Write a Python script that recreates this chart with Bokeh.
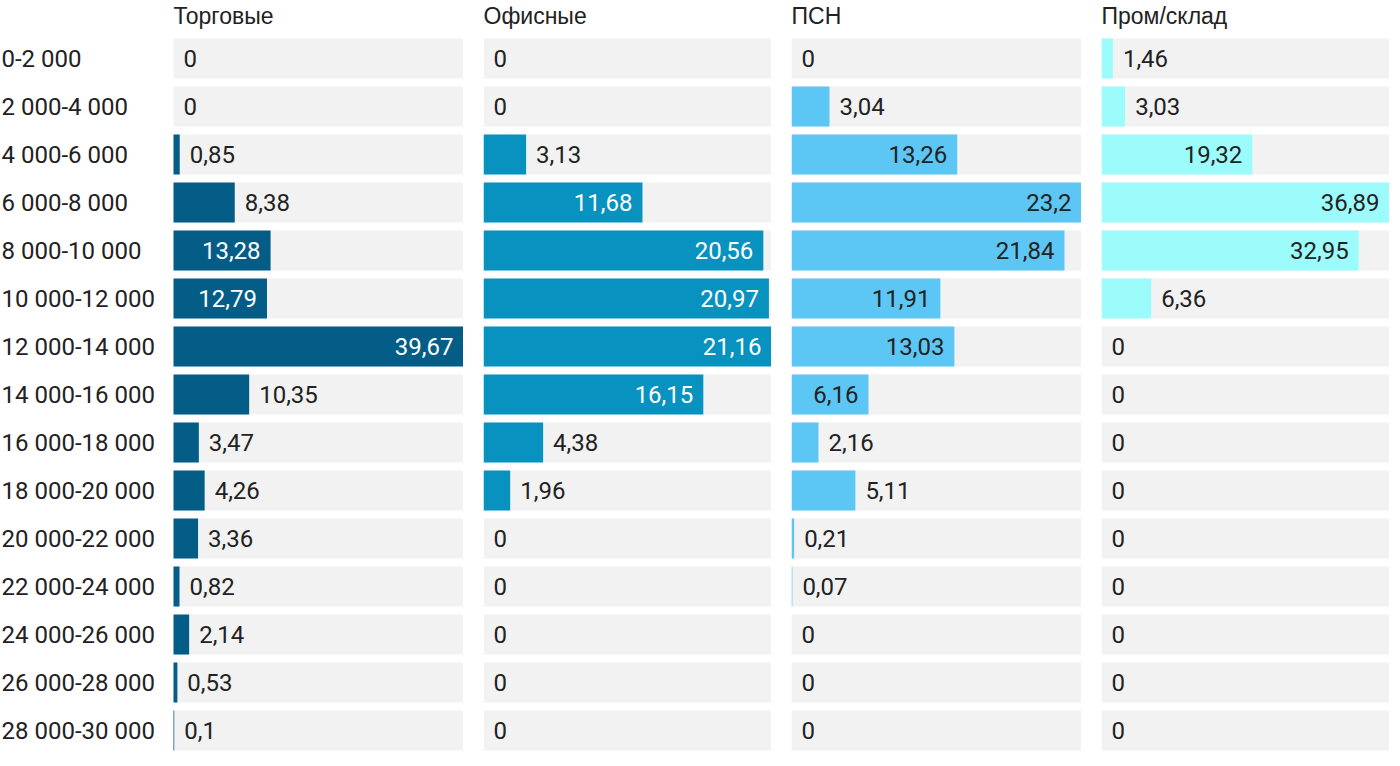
from bokeh.plotting import figure
from bokeh.models import Range1d, FactorRange
from bokeh.layouts import row
from bokeh.embed import file_html
from bokeh.resources import INLINE
from bokeh.core.properties import value

categories = ["0-2 000", "2 000-4 000", "4 000-6 000", "6 000-8 000", "8 000-10 000",
              "10 000-12 000", "12 000-14 000", "14 000-16 000", "16 000-18 000",
              "18 000-20 000", "20 000-22 000", "22 000-24 000", "24 000-26 000",
              "26 000-28 000", "28 000-30 000"]
panel_titles = ["Торговые", "Офисные", "ПСН", "Пром/склад"]
torgovye = [0, 0, 0.85, 8.38, 13.28, 12.79, 39.67, 10.35, 3.47, 4.26, 3.36, 0.82, 2.14, 0.53, 0.1]
ofisnye = [0, 0, 3.13, 11.68, 20.56, 20.97, 21.16, 16.15, 4.38, 1.96, 0, 0, 0, 0, 0]
psn = [0, 3.04, 13.26, 23.2, 21.84, 11.91, 13.03, 6.16, 2.16, 5.11, 0.21, 0.07, 0, 0, 0]
prom_sklad = [1.46, 3.03, 19.32, 36.89, 32.95, 6.36, 0, 0, 0, 0, 0, 0, 0, 0, 0]

series = [torgovye, ofisnye, psn, prom_sklad]
bar_colors = ["#035d86", "#0892c0", "#5cc7f4", "#9cfcfc"]
inside_colors = ["#ffffff", "#ffffff", "#222222", "#222222"]
panel_px = [290, 288, 290, 288]
label_px = 172
FONT = "Roboto"
TITLE_FONT = "Liberation Sans"
FS = 24
TEXT_COLOR = "#222222"
BG = "#f2f2f2"


def fmt(v):
    s = f"{v:g}"
    return s.replace(".", ",")


def text_width(s):
    w = 0
    for ch in s:
        w += 0.196 if ch == "," else 0.5615
    return w * FS


figs = []
for i, (title, vals) in enumerate(zip(panel_titles, series)):
    vmax = max(vals)
    extra = label_px if i == 0 else 0
    start = -vmax * extra / panel_px[i]
    p = figure(
        title=title,
        frame_width=panel_px[i] + extra,
        frame_height=720,
        x_range=Range1d(start, vmax),
        y_range=FactorRange(factors=categories[::-1]),
        x_axis_location=None,
        y_axis_location=None,
        toolbar_location=None,
        output_backend="svg",
        min_border=0,
        outline_line_color=None,
        tools="",
    )
    if i == 0:
        p.min_border_left = 1
    p.grid.visible = False
    p.title.text_font = TITLE_FONT
    p.title.text_font_size = "23px"
    p.title.text_font_style = "normal"
    p.title.text_color = TEXT_COLOR
    p.title.align = "left"
    p.title.offset = extra
    p.title.standoff = 12

    p.hbar(y=categories, left=0, right=[vmax] * len(categories), height=40 / 48,
           fill_color=BG, line_color=None)
    p.hbar(y=categories, left=0, right=vals, height=40 / 48,
           fill_color=bar_colors[i], line_color=None)

    in_y, in_x, in_t = [], [], []
    out_y, out_x, out_t = [], [], []
    for c, v in zip(categories, vals):
        t = fmt(v)
        bar_w = v / vmax * panel_px[i]
        if bar_w >= text_width(t) + 26:
            in_y.append(c); in_x.append(v); in_t.append(t)
        else:
            out_y.append(c); out_x.append(v); out_t.append(t)
    if in_t:
        p.text(x=in_x, y=in_y, text=in_t, x_offset=-10, text_align="right",
               text_baseline="middle", text_font=value(FONT), text_font_size=f"{FS}px",
               text_color=inside_colors[i])
    if out_t:
        p.text(x=out_x, y=out_y, text=out_t, x_offset=10, text_align="left",
               text_baseline="middle", text_font=value(FONT), text_font_size=f"{FS}px",
               text_color=TEXT_COLOR)

    if i == 0:
        p.text(x=[start] * len(categories), y=categories, text=categories,
               text_align="left", text_baseline="middle", text_font=value(FONT),
               text_font_size=f"{FS}px", text_color=TEXT_COLOR)
    figs.append(p)

layout = row(*figs, spacing=20, margin=(-6, 0, 0, 0))
open("out.html", "w").write(file_html(layout, INLINE))
